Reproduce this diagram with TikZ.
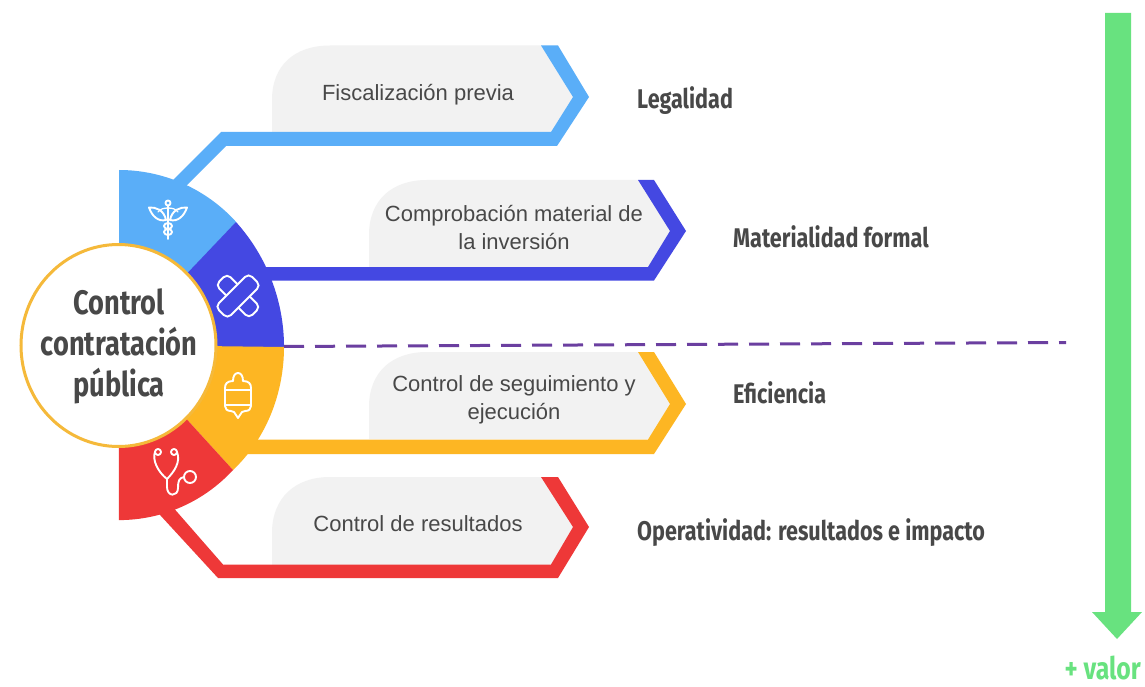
\documentclass[tikz,border=0pt]{standalone}
\usepackage{fontspec}
\setmainfont{Liberation Sans}
\newfontfamily\headfont[FakeStretch=0.8]{Fira Sans}
\definecolor{cblue}{HTML}{5AAEF8}
\definecolor{cindigo}{HTML}{4448E2}
\definecolor{cyellow}{HTML}{FDB623}
\definecolor{cred}{HTML}{EE3838}
\definecolor{cgray}{HTML}{F2F2F2}
\definecolor{ctext}{HTML}{484848}
\definecolor{cgreen}{HTML}{68E27F}
\definecolor{cpurple}{HTML}{6B3FA0}
\definecolor{cring}{HTML}{F5B93A}
\tikzset{
  bodytext/.style={text=ctext,font=\fontsize{22}{28}\selectfont,align=center,inner sep=0pt},
  headtext/.style={text=ctext,font=\headfont\bfseries\fontsize{27}{30}\selectfont,anchor=west,inner sep=0pt},
  icon/.style={draw=white,line width=1.9pt,line cap=round,line join=round},
}
\begin{document}
\begin{tikzpicture}[x=1pt,y=-1pt]
\useasboundingbox[fill=white] (0,0) rectangle (1145,687);
% grey panels
\fill[cgray] (272,132) -- (272,100) .. controls (272,65) and (295,45.5) .. (330,45.5) -- (541,45.5) -- (573,97) -- (551,132) -- cycle;
\fill[cgray] (369,267) -- (369,235) .. controls (369,200) and (392,180) .. (427,180) -- (638,180) -- (670,231) -- (648,267) -- cycle;
\fill[cgray] (369,439) -- (369,407) .. controls (369,372) and (392,352) .. (427,352) -- (638,352) -- (670,404) -- (648,439) -- cycle;
\fill[cgray] (272,565) -- (272,533) .. controls (272,498) and (295,477) .. (330,477) -- (541,477) -- (573,527) -- (551,565) -- cycle;
% connectors with chevrons
\fill[cblue] (170,183) -- (221,132) -- (551,132) -- (573,97) -- (541,45.5) -- (558,45.5) -- (589,97) -- (557,146) -- (226,146) -- (183,189) -- cycle;
\fill[cindigo] (262,267) -- (648,267) -- (670,231) -- (638,180) -- (654,180) -- (686,231) -- (654,280.5) -- (268,280.5) -- cycle;
\fill[cyellow] (250,439.5) -- (648,439.5) -- (670,404) -- (638,352) -- (654,352) -- (686,404) -- (654,454) -- (240,454) -- cycle;
\fill[cred] (156,510.6) -- (218,578) -- (558,578) -- (589,527) -- (558,477) -- (541,477) -- (573,527) -- (551,564.5) -- (223,564.5) -- (171,505) -- cycle;
% ring segments
\fill[cblue] (119,345) -- (119,170) arc[start angle=-90,end angle=-42,radius=158] -- cycle;
\fill[cindigo] (119,345) -- (236,222) arc[start angle=-42,end angle=0,radius=187] -- (119,347) -- cycle;
\fill[cyellow] (119,345) -- (284,347) .. controls (284,395) and (265,440) .. (233,470) -- cycle;
\fill[cred] (119,345) -- (233,470) arc[start angle=42.6,end angle=90,radius=155] -- cycle;
% centre
\draw[cring,fill=white,line width=3pt] (118.5,345.5) ellipse[x radius=97.5,y radius=101];
\node[text=ctext,font=\headfont\bfseries\fontsize{34}{41}\selectfont,align=center,inner sep=0pt] (hubtext) at (119,346) {Control\\contratación\\pública};
% labels
\node[bodytext] (t1) at (418,95) {Fiscalización previa};
\node[bodytext] (t2) at (514,228) {Comprobación material de\\la inversión};
\node[bodytext] (t3) at (514,400) {Control de seguimiento y\\ejecución};
\node[bodytext] (t4) at (418,524) {Control de resultados};
\node[headtext] (h1) at (637,101) {Legalidad};
\node[headtext] (h2) at (733,237) {Materialidad formal};
\node[headtext] (h3) at (733,393) {Eficiencia};
\node[headtext] (h4) at (637,533) {Operatividad: resultados e impacto};
% dashed divider
\coordinate (dashA) at (284,346.5);
\coordinate (dashB) at (1066,342.5);
\draw[cpurple,line width=3pt,dash pattern=on 20pt off 11pt] (dashA) -- (dashB);
% value arrow
\fill[cgreen] (1105,13) -- (1131,13) -- (1131,612) -- (1142,612) -- (1117,639) -- (1092,612) -- (1105,612) -- cycle;
\node[text=cgreen,font=\headfont\bfseries\fontsize{31}{36}\selectfont,anchor=base east,inner sep=0pt] (plusvalor) at (1141,679) {+ valor};
% caduceus
\draw[icon] (168,203) circle[radius=2.5];
\draw[icon] (168,206) -- (168,239);
\draw[icon] (149,207.5) .. controls (156,207) and (164,210) .. (166,220) .. controls (158,222) and (152,216) .. cycle;
\draw[icon] (187,207.5) .. controls (180,207) and (172,210) .. (170,220) .. controls (178,222) and (184,216) .. cycle;
\draw[icon,line width=1.3pt] (158,212) .. controls (160,209) and (164,208) .. (168,208) .. controls (172,208) and (176,209) .. (178,212);
\draw[icon] (168,226) ellipse[x radius=4,y radius=3];
\draw[icon] (168,232) ellipse[x radius=4,y radius=3];
% bandage
\node[draw=white,line width=1.9pt,rounded corners=5pt,minimum width=47pt,minimum height=16pt,rotate=-45,inner sep=0pt] (bandB) at (238,296) {};
\node[draw=white,fill=cindigo,line width=1.9pt,rounded corners=5pt,minimum width=47pt,minimum height=17pt,rotate=45,inner sep=0pt] (bandA) at (238,296) {};
% IV bag
\draw[icon] (233,381) .. controls (233,376) and (235,373) .. (238,373) .. controls (241,373) and (243,376) .. (243,381) .. controls (249,381) and (251,384) .. (251,388) -- (251,406) .. controls (251,409) and (249,411) .. (245,411) -- (242,412) -- (238,418) -- (234,412) -- (231,411) .. controls (227,411) and (225,409) .. (225,406) -- (225,388) .. controls (225,384) and (227,381) .. (233,381) -- cycle;
\draw[icon] (225,390) -- (251,390);
\draw[icon] (225,405) -- (251,405);
% stethoscope
\draw[icon] (158,452) circle[radius=3];
\draw[icon] (174,452) circle[radius=3];
\draw[icon] (155,452) .. controls (152,460) and (158,472) .. (167,479) .. controls (174,472) and (181,462) .. (177,452);
\draw[icon] (167,479) -- (167,487) .. controls (167,497) and (178,497) .. (178,488) .. controls (178,481) and (179,478) .. (184,477);
\draw[icon] (190,477) circle[radius=6];
\end{tikzpicture}
\end{document}
